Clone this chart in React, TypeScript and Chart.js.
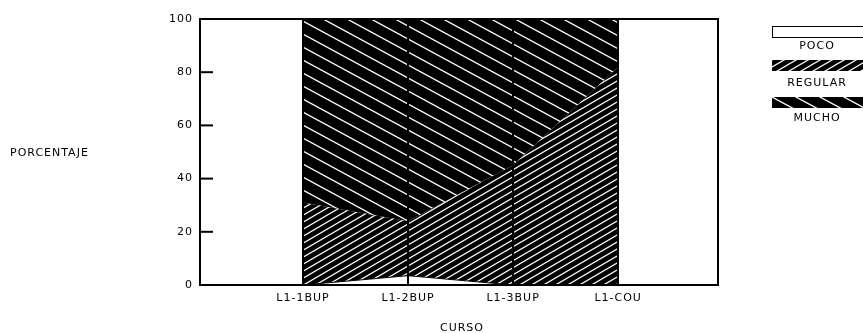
import React, { useEffect, useRef, useMemo } from "react";
import { Chart, registerables } from "chart.js";
Chart.register(...registerables);

const categories = ["L1-1BUP", "L1-2BUP", "L1-3BUP", "L1-COU"];
const poco = [0, 3.5, 0, 0];
const regular = [31, 20.5, 45, 82];
const mucho = [69, 76, 55, 18];
const yTicks = [0, 20, 40, 60, 80, 100];
const seriesNames = ["POCO", "REGULAR", "MUCHO"];

const FONT = "'DejaVu Sans', sans-serif";

function makeTile(w: number, h: number, dir: "/" | "\\", lw: number) {
  const c = document.createElement("canvas");
  c.width = w;
  c.height = h;
  const g = c.getContext("2d")!;
  g.fillStyle = "#000";
  g.fillRect(0, 0, w, h);
  g.strokeStyle = "#fff";
  g.lineWidth = lw;
  for (let k = -2; k <= 2; k++) {
    g.beginPath();
    if (dir === "/") {
      g.moveTo(-w, 2 * h + k * h);
      g.lineTo(2 * w, -h + k * h);
    } else {
      g.moveTo(-w, -h + k * h);
      g.lineTo(2 * w, 2 * h + k * h);
    }
    g.stroke();
  }
  return c;
}

const pts = (arr: number[]) => arr.map((v, i) => ({ x: i + 1, y: v }));

export default function App() {
  const ref = useRef<HTMLCanvasElement | null>(null);
  const tiles = useMemo(
    () => ({
      regular: makeTile(12, 7, "/", 1.2),
      mucho: makeTile(24, 13, "\\", 1.3),
    }),
    []
  );

  useEffect(() => {
    const canvas = ref.current!;
    const ctx = canvas.getContext("2d")!;
    const regPat = ctx.createPattern(tiles.regular, "repeat")!;
    const muchoPat = ctx.createPattern(tiles.mucho, "repeat")!;

    const framePlugin = {
      id: "frame",
      beforeDraw(chart: any) {
        chart.ctx.letterSpacing = "1px";
      },
      afterDraw(chart: any) {
        const { ctx: c, chartArea: a, scales } = chart;
        c.save();
        c.strokeStyle = "#000";
        c.lineWidth = 2;
        c.strokeRect(a.left, a.top, a.right - a.left, a.bottom - a.top);
        const y = scales.y;
        y.ticks.forEach((t: any) => {
          const py = y.getPixelForValue(t.value);
          c.beginPath();
          c.moveTo(a.left, py);
          c.lineTo(a.left + 13, py);
          c.stroke();
        });
        c.restore();
      },
    };

    const chart = new Chart(canvas, {
      type: "line",
      data: {
        datasets: [
          {
            label: seriesNames[0],
            data: pts(poco),
            backgroundColor: "#fff",
            borderColor: "#000",
            borderWidth: 1,
            fill: "origin",
            pointRadius: 0,
            tension: 0,
          },
          {
            label: seriesNames[1],
            data: pts(regular),
            backgroundColor: regPat,
            borderColor: "rgba(0,0,0,0)",
            borderWidth: 1,
            fill: "-1",
            pointRadius: 0,
            tension: 0,
          },
          {
            label: seriesNames[2],
            data: pts(mucho),
            backgroundColor: muchoPat,
            borderColor: "rgba(0,0,0,0)",
            borderWidth: 1,
            fill: "-1",
            pointRadius: 0,
            tension: 0,
          },
        ],
      },
      options: {
        animation: false,
        responsive: false,
        devicePixelRatio: 1,
        layout: { padding: { left: 0, right: 145, top: 19, bottom: 0 } },
        plugins: { legend: { display: false }, tooltip: { enabled: false } },
        scales: {
          x: {
            type: "linear",
            min: 0.02,
            max: 4.95,
            afterFit: (s: any) => {
              s.height = 48;
            },
            afterBuildTicks: (s: any) => {
              s.ticks = categories.map((_, i) => ({ value: i + 1 }));
            },
            ticks: {
              callback: (v: any) => categories[Math.round(Number(v)) - 1] ?? "",
              color: "#000",
              font: { family: FONT, size: 11 },
              padding: 7,
              autoSkip: false,
              maxRotation: 0,
            },
            grid: { color: "#000", lineWidth: 2, drawTicks: false, z: 1 },
            border: { display: false },
          },
          y: {
            stacked: true,
            min: 0,
            max: 100,
            afterFit: (s: any) => {
              s.width = 200;
            },
            afterBuildTicks: (s: any) => {
              s.ticks = yTicks.map((v) => ({ value: v }));
            },
            ticks: {
              color: "#000",
              font: { family: FONT, size: 11 },
              padding: 7,
            },
            grid: { display: false, drawTicks: false },
            border: { display: false },
          },
        },
      },
      plugins: [framePlugin],
    });
    return () => chart.destroy();
  }, [tiles]);

  const text: React.CSSProperties = {
    position: "absolute",
    fontFamily: FONT,
    fontSize: 11,
    letterSpacing: "1px",
    color: "#000",
    lineHeight: "13px",
    whiteSpace: "nowrap",
  };
  const legendLabel = (top: number, s: string) => (
    <div style={{ ...text, left: 817, top, transform: "translateX(-50%)" }}>{s}</div>
  );

  return (
    <div style={{ position: "fixed", left: 0, top: 0, width: 863, height: 333, background: "#fff", overflow: "hidden" }}>
      <canvas ref={ref} width={863} height={333} style={{ position: "absolute", left: 0, top: 0 }} />
      <div style={{ ...text, left: 10, top: 146 }}>PORCENTAJE</div>
      <div style={{ ...text, left: 462, top: 321, transform: "translateX(-50%)" }}>CURSO</div>
      <div style={{ position: "absolute", left: 772, top: 26, width: 100, height: 10, border: "1.5px solid #000", background: "#fff" }} />
      {legendLabel(39, seriesNames[0])}
      <div style={{ position: "absolute", left: 772, top: 60, width: 100, height: 11, backgroundColor: "#000", backgroundImage: `url(${tiles.regular.toDataURL()})` }} />
      {legendLabel(76, seriesNames[1])}
      <div style={{ position: "absolute", left: 772, top: 97, width: 100, height: 11, backgroundColor: "#000", backgroundImage: `url(${tiles.mucho.toDataURL()})` }} />
      {legendLabel(111, seriesNames[2])}
    </div>
  );
}
